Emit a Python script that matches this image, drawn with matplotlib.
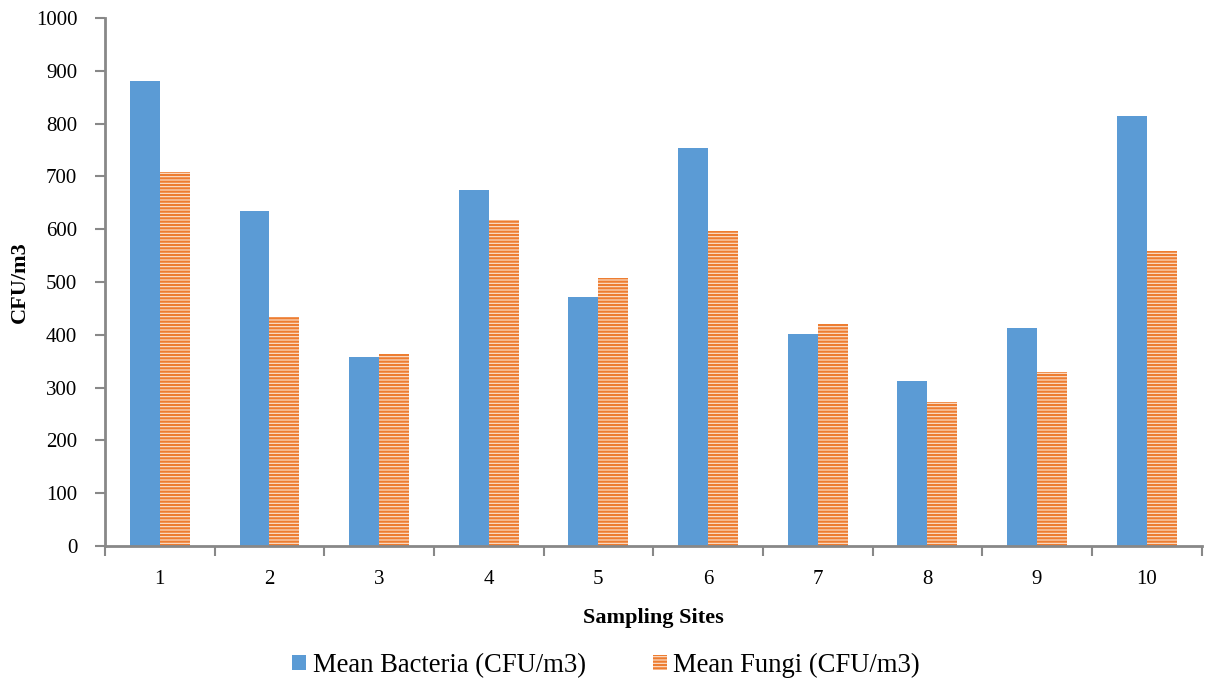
import numpy as np
import matplotlib.pyplot as plt
from matplotlib.patches import Patch

plt.rcParams['font.family'] = ['Liberation Serif', 'DejaVu Serif']
plt.rcParams['hatch.linewidth'] = 1.6

sites = ['1', '2', '3', '4', '5', '6', '7', '8', '9', '10']
bacteria = [880, 634, 358, 674, 472, 754, 401, 312, 413, 814]
fungi = [708, 434, 363, 617, 508, 596, 421, 273, 329, 559]

blue = '#5B9BD5'
orange = '#ED7D31'

fig = plt.figure(figsize=(12.05, 6.83), dpi=100)
ax = fig.add_axes([0.0871, 0.2006, 0.91, 0.773])

x = np.arange(len(sites))
w = 0.273
ax.bar(x - w / 2, bacteria, w, color=blue, edgecolor='none')
ax.bar(x + w / 2, fungi, w, color='#FCE4D2', edgecolor=orange, hatch='-----', linewidth=0)

ax.set_xlim(-0.5, len(sites) - 0.5)
ax.set_ylim(0, 1000)
ax.set_yticks(np.arange(0, 1001, 100))
ax.set_xticks(np.arange(-0.5, len(sites), 1.0))
ax.set_xticklabels([])
ax.set_xticks(x, minor=True)
ax.set_xticklabels(sites, minor=True)
ax.tick_params(axis='x', which='minor', length=0, pad=17, labelsize=15)
ax.tick_params(axis='x', which='major', length=7, width=1.5, color='#888888', direction='out')
ax.tick_params(axis='y', length=7, width=1.5, color='#888888', direction='out', labelsize=15, pad=13)

for s in ['top', 'right']:
    ax.spines[s].set_visible(False)
for s in ['left', 'bottom']:
    ax.spines[s].set_color('#888888')
    ax.spines[s].set_linewidth(2)

ax.set_ylabel('CFU/m3', fontsize=16, fontweight='bold', labelpad=4)
ax.set_xlabel('Sampling Sites', fontsize=16, fontweight='bold', labelpad=14)

handles = [Patch(facecolor=blue, edgecolor='none'),
           Patch(facecolor='#FCE4D2', edgecolor=orange, hatch='-----', linewidth=0)]
fig.legend(handles, ['Mean Bacteria (CFU/m3)', 'Mean Fungi (CFU/m3)'],
           loc='center', bbox_to_anchor=(0.503, 0.026), ncol=2, frameon=False,
           fontsize=19.2, handlelength=0.52, handleheight=0.52, handletextpad=0.25,
           columnspacing=2.5)

fig.savefig('out.png', dpi=100)
